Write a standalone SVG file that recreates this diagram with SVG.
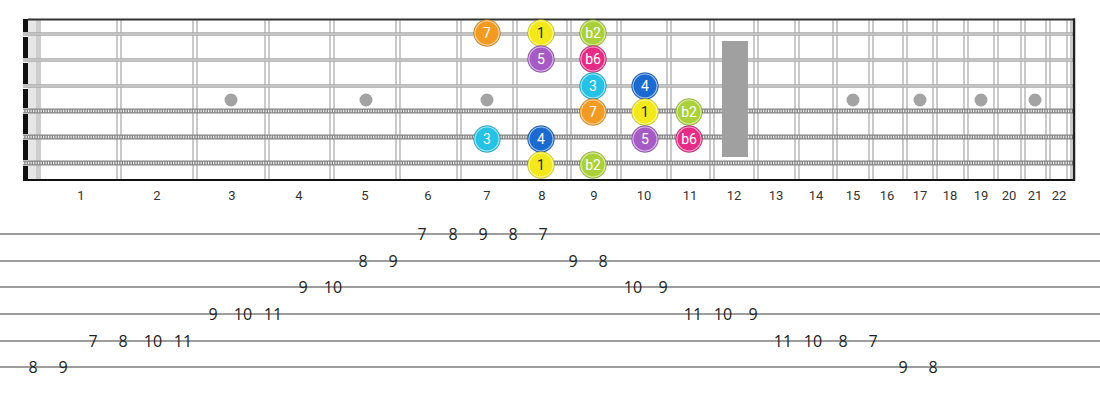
<svg xmlns="http://www.w3.org/2000/svg" width="1100" height="400" viewBox="0 0 1100 400">
<defs>
<style>
.fret{stroke:#b4b4b4;stroke-width:1.4;fill:none}
.plain{stroke:#a9a9a9;stroke-width:3.4}
.plainc{stroke:#dedede;stroke-width:1}
.wound{stroke:#858585;stroke-width:5}
.woundc{stroke:#eeeeee;stroke-width:2.6;stroke-dasharray:1.2 1.3}
.inlay{fill:#a3a3a3}
.fnum{font-family:Roboto,"Liberation Sans",sans-serif;font-size:13px;fill:#333;text-anchor:middle}
.tabl{stroke:#9d9d9d;stroke-width:2}
.tab{font-family:"Open Sans","Noto Sans","Liberation Sans",sans-serif;font-size:16px;fill:#222;text-anchor:middle;dominant-baseline:central}
.nl{font-family:Roboto,"Liberation Sans",sans-serif;font-size:14px;fill:#fff;text-anchor:middle;dominant-baseline:central}
.dk{fill:#222}
.dot{stroke:#000;stroke-opacity:0.18;stroke-width:1}
.ring{fill:none;stroke:#ffffff;stroke-opacity:0.6;stroke-width:1.1}
</style>
</defs>
<rect width="1100" height="400" fill="#fff"/>
<g id="fretboard">
<rect x="28" y="19" width="8" height="161" fill="#e6e6e6"/>
<rect x="36" y="19" width="5" height="161" fill="#cdcdcd"/>
<g id="frets">
<path class="fret" d="M117 19V180M121 19V180M193 19V180M197 19V180M265 19V180M269 19V180M330 19V180M334 19V180M396 19V180M400 19V180M457 19V180M461 19V180M513 19V180M517 19V180M567 19V180M571 19V180M617 19V180M621 19V180M667 19V180M671 19V180M710 19V180M714 19V180M754 19V180M758 19V180M795 19V180M799 19V180M833 19V180M837 19V180M869 19V180M873 19V180M903 19V180M907 19V180M933 19V180M937 19V180M964 19V180M968 19V180M994 19V180M998 19V180M1021 19V180M1025 19V180M1046 19V180M1050 19V180M1067 19V180M1071 19V180"/>
</g>
<g id="inlays">
<circle class="inlay" cx="231" cy="100" r="6.5"/>
<circle class="inlay" cx="366" cy="100" r="6.5"/>
<circle class="inlay" cx="487" cy="100" r="6.5"/>
<circle class="inlay" cx="853" cy="100" r="6.5"/>
<circle class="inlay" cx="920" cy="100" r="6.5"/>
<circle class="inlay" cx="981" cy="100" r="6.5"/>
<circle class="inlay" cx="1035" cy="100" r="6.5"/>
</g>
<g id="strings">
<line class="plain" x1="23" y1="34" x2="1075" y2="34"/><line class="plainc" x1="23" y1="34" x2="1075" y2="34"/>
<line class="plain" x1="23" y1="60" x2="1075" y2="60"/><line class="plainc" x1="23" y1="60" x2="1075" y2="60"/>
<line class="plain" x1="23" y1="86" x2="1075" y2="86"/><line class="plainc" x1="23" y1="86" x2="1075" y2="86"/>
<line class="wound" x1="23" y1="111" x2="1075" y2="111"/><line class="woundc" x1="23" y1="111" x2="1075" y2="111"/>
<line class="wound" x1="23" y1="137" x2="1075" y2="137"/><line class="woundc" x1="23" y1="137" x2="1075" y2="137"/>
<line class="wound" x1="23" y1="163" x2="1075" y2="163"/><line class="woundc" x1="23" y1="163" x2="1075" y2="163"/>
</g>
<rect x="722" y="41" width="26" height="116" fill="#a0a0a0"/>
<g id="nut">
<rect x="23" y="19" width="5" height="13" fill="#111"/>
<rect x="23" y="37" width="5" height="21" fill="#111"/>
<rect x="23" y="63" width="5" height="21" fill="#111"/>
<rect x="23" y="89" width="5" height="19" fill="#111"/>
<rect x="23" y="114" width="5" height="20" fill="#111"/>
<rect x="23" y="140" width="5" height="20" fill="#111"/>
<rect x="23" y="166" width="5" height="15" fill="#111"/>
</g>
<line x1="28" y1="19.5" x2="1075" y2="19.5" stroke="#333" stroke-width="2"/>
<line x1="23" y1="180" x2="1075" y2="180" stroke="#111" stroke-width="2"/>
<line x1="1074" y1="18.5" x2="1074" y2="181" stroke="#222" stroke-width="2.5"/>
</g>
<g id="fret-numbers">
<text class="fnum" x="81" y="200">1</text>
<text class="fnum" x="157" y="200">2</text>
<text class="fnum" x="232" y="200">3</text>
<text class="fnum" x="299" y="200">4</text>
<text class="fnum" x="365" y="200">5</text>
<text class="fnum" x="428" y="200">6</text>
<text class="fnum" x="487" y="200">7</text>
<text class="fnum" x="542" y="200">8</text>
<text class="fnum" x="594" y="200">9</text>
<text class="fnum" x="644" y="200">10</text>
<text class="fnum" x="690" y="200">11</text>
<text class="fnum" x="734" y="200">12</text>
<text class="fnum" x="776" y="200">13</text>
<text class="fnum" x="816" y="200">14</text>
<text class="fnum" x="853" y="200">15</text>
<text class="fnum" x="887" y="200">16</text>
<text class="fnum" x="920" y="200">17</text>
<text class="fnum" x="950" y="200">18</text>
<text class="fnum" x="981" y="200">19</text>
<text class="fnum" x="1009" y="200">20</text>
<text class="fnum" x="1035" y="200">21</text>
<text class="fnum" x="1059" y="200">22</text>
</g>
<g id="connectors"></g>
<g id="notes">
<g id="n-s1-f7"><circle class="dot" cx="487" cy="33" r="13.5" fill="#f39a22"/><circle class="ring" cx="487" cy="33" r="12"/><text class="nl" x="487" y="33">7</text></g>
<g id="n-s1-f8"><circle class="dot" cx="541" cy="33" r="13.5" fill="#f3e81a"/><circle class="ring" cx="541" cy="33" r="12"/><text class="nl dk" x="541" y="33">1</text></g>
<g id="n-s1-f9"><circle class="dot" cx="593" cy="33" r="13.5" fill="#abd13a"/><circle class="ring" cx="593" cy="33" r="12"/><text class="nl" x="593" y="33">b2</text></g>
<g id="n-s2-f8"><circle class="dot" cx="541" cy="59" r="13.5" fill="#a45cc4"/><circle class="ring" cx="541" cy="59" r="12"/><text class="nl" x="541" y="59">5</text></g>
<g id="n-s2-f9"><circle class="dot" cx="593" cy="59" r="13.5" fill="#e72c86"/><circle class="ring" cx="593" cy="59" r="12"/><text class="nl" x="593" y="59">b6</text></g>
<g id="n-s3-f9"><circle class="dot" cx="593" cy="86" r="13.5" fill="#25c2e6"/><circle class="ring" cx="593" cy="86" r="12"/><text class="nl" x="593" y="86">3</text></g>
<g id="n-s3-f10"><circle class="dot" cx="645" cy="86" r="13.5" fill="#1b6acf"/><circle class="ring" cx="645" cy="86" r="12"/><text class="nl" x="645" y="86">4</text></g>
<g id="n-s4-f9"><circle class="dot" cx="593" cy="112" r="13.5" fill="#f39a22"/><circle class="ring" cx="593" cy="112" r="12"/><text class="nl" x="593" y="112">7</text></g>
<g id="n-s4-f10"><circle class="dot" cx="645" cy="112" r="13.5" fill="#f3e81a"/><circle class="ring" cx="645" cy="112" r="12"/><text class="nl dk" x="645" y="112">1</text></g>
<g id="n-s4-f11"><circle class="dot" cx="689" cy="112" r="13.5" fill="#abd13a"/><circle class="ring" cx="689" cy="112" r="12"/><text class="nl" x="689" y="112">b2</text></g>
<g id="n-s5-f7"><circle class="dot" cx="487" cy="139" r="13.5" fill="#25c2e6"/><circle class="ring" cx="487" cy="139" r="12"/><text class="nl" x="487" y="139">3</text></g>
<g id="n-s5-f8"><circle class="dot" cx="541" cy="139" r="13.5" fill="#1b6acf"/><circle class="ring" cx="541" cy="139" r="12"/><text class="nl" x="541" y="139">4</text></g>
<g id="n-s5-f10"><circle class="dot" cx="645" cy="139" r="13.5" fill="#a45cc4"/><circle class="ring" cx="645" cy="139" r="12"/><text class="nl" x="645" y="139">5</text></g>
<g id="n-s5-f11"><circle class="dot" cx="689" cy="139" r="13.5" fill="#e72c86"/><circle class="ring" cx="689" cy="139" r="12"/><text class="nl" x="689" y="139">b6</text></g>
<g id="n-s6-f8"><circle class="dot" cx="541" cy="165" r="13.5" fill="#f3e81a"/><circle class="ring" cx="541" cy="165" r="12"/><text class="nl dk" x="541" y="165">1</text></g>
<g id="n-s6-f9"><circle class="dot" cx="593" cy="165" r="13.5" fill="#abd13a"/><circle class="ring" cx="593" cy="165" r="12"/><text class="nl" x="593" y="165">b2</text></g>
</g>
<g id="tab">
<line class="tabl" x1="0" y1="234" x2="1100" y2="234"/>
<line class="tabl" x1="0" y1="261" x2="1100" y2="261"/>
<line class="tabl" x1="0" y1="287" x2="1100" y2="287"/>
<line class="tabl" x1="0" y1="314" x2="1100" y2="314"/>
<line class="tabl" x1="0" y1="341" x2="1100" y2="341"/>
<line class="tabl" x1="0" y1="367" x2="1100" y2="367"/>
<text class="tab" x="422" y="234">7</text><text class="tab" x="453" y="234">8</text><text class="tab" x="483" y="234">9</text><text class="tab" x="513" y="234">8</text><text class="tab" x="543" y="234">7</text>
<text class="tab" x="363" y="261">8</text><text class="tab" x="393" y="261">9</text><text class="tab" x="573" y="261">9</text><text class="tab" x="603" y="261">8</text>
<text class="tab" x="303" y="287">9</text><text class="tab" x="333" y="287">10</text><text class="tab" x="633" y="287">10</text><text class="tab" x="663" y="287">9</text>
<text class="tab" x="213" y="314">9</text><text class="tab" x="243" y="314">10</text><text class="tab" x="273" y="314">11</text><text class="tab" x="693" y="314">11</text><text class="tab" x="723" y="314">10</text><text class="tab" x="753" y="314">9</text>
<text class="tab" x="93" y="341">7</text><text class="tab" x="123" y="341">8</text><text class="tab" x="153" y="341">10</text><text class="tab" x="183" y="341">11</text><text class="tab" x="783" y="341">11</text><text class="tab" x="813" y="341">10</text><text class="tab" x="843" y="341">8</text><text class="tab" x="873" y="341">7</text>
<text class="tab" x="33" y="367">8</text><text class="tab" x="63" y="367">9</text><text class="tab" x="903" y="367">9</text><text class="tab" x="933" y="367">8</text>
</g>
</svg>
